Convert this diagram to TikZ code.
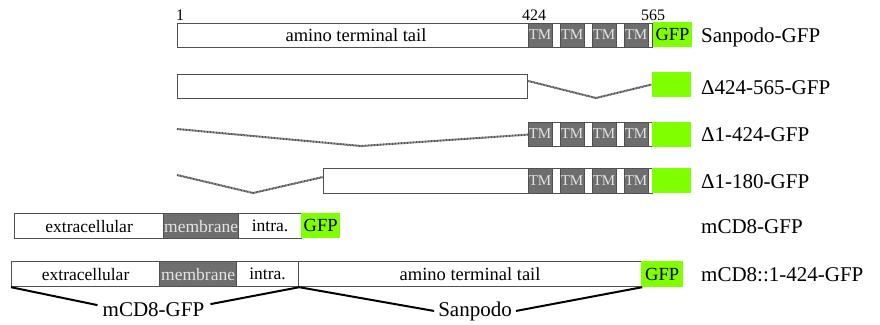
\documentclass[tikz,border=0pt]{standalone}
\usepackage{fontspec}
\setmainfont{Liberation Serif}
\definecolor{boxgray}{HTML}{505050}
\definecolor{tmgray}{HTML}{6E6E6E}
\definecolor{tmtext}{HTML}{E4E4E4}
\definecolor{gfpgreen}{HTML}{80FF00}
\definecolor{dotgray}{HTML}{505050}
\begin{document}
\begin{tikzpicture}[x=1pt,y=-1pt,
  seg/.style={draw=boxgray,line width=1.2pt,fill=white,inner sep=0pt,anchor=north west,font=\fontsize{17.5}{20}\selectfont},
  memb/.style={seg,fill=tmgray,text=tmtext},
  boxtext/.style={inner sep=0pt,font=\fontsize{18.5}{20}\selectfont},
  tm/.style={fill=tmgray,draw=boxgray,line width=0.6pt,minimum width=24pt,minimum height=24pt,inner sep=0pt,text=tmtext,font=\fontsize{15}{16}\selectfont},
  gfp/.style={fill=gfpgreen,minimum width=39pt,minimum height=25pt,inner sep=0pt,font=\fontsize{18.5}{20}\selectfont},
  lbl/.style={anchor=base west,inner sep=0pt,font=\fontsize{21}{24}\selectfont},
  blbl/.style={anchor=base,inner sep=0pt,font=\fontsize{21}{24}\selectfont},
  num/.style={anchor=base,inner sep=0pt,font=\fontsize{16}{18}\selectfont},
  dotline/.style={draw=dotgray,line width=2pt,dash pattern=on 1pt off 0.5pt},
  brace/.style={draw=black,line width=2pt}]
\useasboundingbox (0,0) rectangle (880,324);
% Row 1
\node[seg,minimum width=475pt,minimum height=24pt] (r1) at (177,23) {};
\node[boxtext] (t1) at (356,35) {amino terminal tail};
\node[tm] (tm1a) at (540,35) {TM};
\node[tm] (tm1b) at (572,35) {TM};
\node[tm] (tm1c) at (604,35) {TM};
\node[tm] (tm1d) at (636,35) {TM};
\node[gfp] (g1) at (672.5,34.5) {GFP};
\node[num] (n1) at (180,20) {1};
\node[num] (n424) at (534,20) {424};
\node[num] (n565) at (653,20) {565};
\node[lbl] (l1) at (701,42) {Sanpodo-GFP};
% Row 2
\node[seg,minimum width=350pt,minimum height=24pt] (r2) at (177,74) {};
\node[gfp] (g2) at (671.5,84.5) {};
\coordinate (d2) at (596,98);
\draw[dotline] ([yshift=-7pt]r2.north east) -- (d2) -- (g2.west);
\node[lbl] (l2) at (701,94) {Δ424-565-GFP};
% Row 3
\node[seg,minimum width=124pt,minimum height=24pt] (r3) at (528,122) {};
\node[tm] (tm3a) at (540,134) {TM};
\node[tm] (tm3b) at (572,134) {TM};
\node[tm] (tm3c) at (604,134) {TM};
\node[tm] (tm3d) at (636,134) {TM};
\node[gfp] (g3) at (671.5,134.5) {};
\coordinate (s3) at (177,129);
\coordinate (d3) at (361,146);
\draw[dotline] (s3) -- (d3) -- (r3.west);
\node[lbl] (l3) at (701,141) {Δ1-424-GFP};
% Row 4
\node[seg,minimum width=329pt,minimum height=25pt] (r4) at (323,168) {};
\node[tm,minimum height=25pt] (tm4a) at (540,180.5) {TM};
\node[tm,minimum height=25pt] (tm4b) at (572,180.5) {TM};
\node[tm,minimum height=25pt] (tm4c) at (604,180.5) {TM};
\node[tm,minimum height=25pt] (tm4d) at (636,180.5) {TM};
\node[gfp] (g4) at (671.5,180.5) {};
\coordinate (s4) at (177,175);
\coordinate (d4) at (253,193);
\draw[dotline] (s4) -- (d4) -- ([yshift=-9pt]r4.north west);
\node[lbl] (l4) at (701,188) {Δ1-180-GFP};
% Row 5
\node[seg,minimum width=149pt,minimum height=25pt] (ext5) at (14,213) {extracellular};
\node[memb,minimum width=75pt,minimum height=25pt] (mem5) at (163,213) {membrane};
\node[seg,minimum width=63pt,minimum height=25pt] (int5) at (238,213) {intra.};
\node[gfp,anchor=north west] (g5) at (301,213) {GFP};
\node[lbl] (l5) at (701,233) {mCD8-GFP};
% Row 6
\node[seg,minimum width=148pt,minimum height=25pt] (ext6) at (11,261) {extracellular};
\node[memb,minimum width=77pt,minimum height=25pt] (mem6) at (159,261) {membrane};
\node[seg,minimum width=62pt,minimum height=25pt] (int6) at (236,261) {intra.};
\node[seg,minimum width=343pt,minimum height=25pt,font=\fontsize{18.5}{20}\selectfont] (tail6) at (298,261) {amino terminal tail};
\node[gfp,anchor=north west,minimum width=42pt,minimum height=26pt] (g6) at (641,261) {GFP};
\node[lbl] (l6) at (701,281) {mCD8::1-424-GFP};
% Brackets
\node[blbl] (bA) at (153.5,316) {mCD8-GFP};
\node[blbl] (bB) at (475,316) {Sanpodo};
\draw[brace] (ext6.south west) -- ([xshift=-5pt,yshift=4pt]bA.west);
\draw[brace] ([xshift=6pt,yshift=5pt]bA.east) -- (int6.south east) -- ([xshift=-4pt]bB.west);
\draw[brace] ([xshift=4pt]bB.east) -- (tail6.south east);
\end{tikzpicture}
\end{document}
